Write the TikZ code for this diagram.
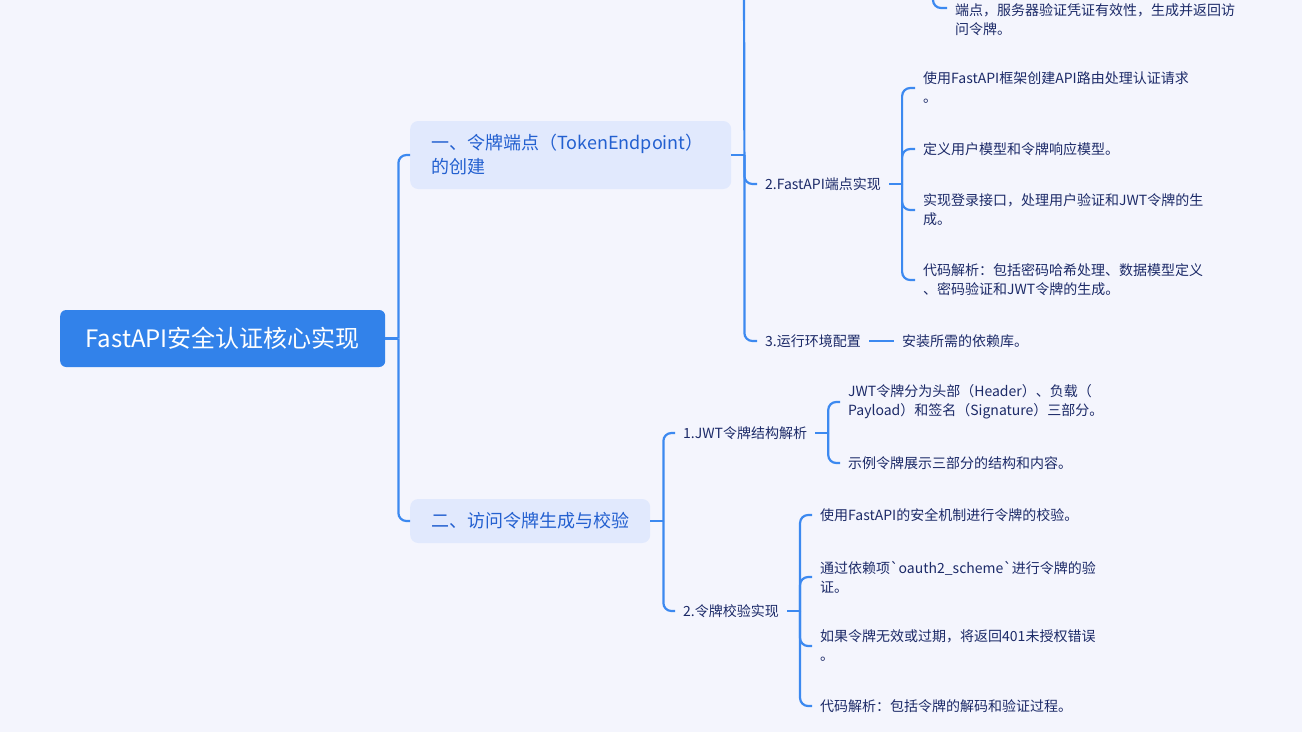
\documentclass[tikz,border=0pt]{standalone}
\usepackage{fontspec}
\setmainfont{Noto Sans CJK SC}
\usetikzlibrary{positioning}
\definecolor{bgcol}{HTML}{F4F5FD}
\definecolor{linkblue}{HTML}{3C89F0}
\definecolor{rootblue}{HTML}{3282EA}
\definecolor{topicfill}{HTML}{E1E9FD}
\definecolor{topicblue}{HTML}{2360D0}
\definecolor{leafnavy}{HTML}{1C2A68}

\begin{document}
\begin{tikzpicture}[x=1pt, y=-1pt,
    link/.style={draw=linkblue, line width=2.2pt, rounded corners=8pt},
    rootbox/.style={fill=rootblue, text=white, rounded corners=6pt, anchor=west,
                    minimum width=325pt, minimum height=57pt,
                    font=\fontsize{24}{28}\selectfont},
    topic/.style={fill=topicfill, text=topicblue, rounded corners=8pt, anchor=west,
                  inner xsep=21pt, align=left, font=\fontsize{18}{24}\selectfont},
    sub/.style={text=leafnavy, anchor=west, inner xsep=8pt, inner ysep=2pt,
                font=\fontsize{14}{19}\selectfont},
    leaf/.style={sub, align=left}
  ]
    \fill[bgcol] (0,0) rectangle (1302,732);
    \clip (0,0) rectangle (1302,732);

    % root and main topics
    \node[rootbox] (root) at (60,338.5) {FastAPI安全认证核心实现};
    \node[topic, text width=279pt, minimum height=68pt] (tok) at (410,155)
      {一、令牌端点（TokenEndpoint）\\的创建};
    \node[topic, minimum height=44pt] (acc) at (410,521) {二、访问令牌生成与校验};

    \draw[link] (root.east) -- ++(13,0) coordinate (root-j);
    \draw[link] (root-j) |- (tok.west);
    \draw[link] (root-j) |- (acc.west);

    % token endpoint branch
    \node[sub] (fast) at (757,184) {2.FastAPI端点实现};
    \node[sub] (env)  at (757,341) {3.运行环境配置};
    \coordinate (tok-up) at (744,-20);

    \draw[link] (tok.east) -- ++(13,0) coordinate (tok-j);
    \draw[link] (tok-j) -- (tok-up);
    \draw[link] (tok-j) |- (fast.west);
    \draw[link] (tok-j) |- (env.west);

    % cut-off leaf at the top
    \node[leaf, anchor=north west] (cred) at (947,1)
      {端点，服务器验证凭证有效性，生成并返回访\\问令牌。};
    \coordinate (cred-up) at (933,-30);
    \coordinate (cred-in) at (947,8);
    \draw[link] (cred-up) |- (cred-in);

    % FastAPI endpoint leaves
    \node[leaf] (f1) at (915,88)  {使用FastAPI框架创建API路由处理认证请求\\。};
    \node[leaf] (f2) at (915,149) {定义用户模型和令牌响应模型。};
    \node[leaf] (f3) at (915,210) {实现登录接口，处理用户验证和JWT令牌的生\\成。};
    \node[leaf] (f4) at (915,280) {代码解析：包括密码哈希处理、数据模型定义\\、密码验证和JWT令牌的生成。};

    \draw[link] (fast.east) -- ++(13,0) coordinate (fast-j);
    \draw[link] (fast-j) |- (f1.west);
    \draw[link] (fast-j) |- (f2.west);
    \draw[link] (fast-j) |- (f3.west);
    \draw[link] (fast-j) |- (f4.west);

    % environment leaf
    \node[sub] (deps) at (894,341) {安装所需的依赖库。};
    \draw[link] (env.east) -- (deps.west);

    % access token branch
    \node[sub] (jwt) at (675,433) {1.JWT令牌结构解析};
    \node[sub] (ver) at (675,611) {2.令牌校验实现};

    \draw[link] (acc.east) -- ++(13,0) coordinate (acc-j);
    \draw[link] (acc-j) |- (jwt.west);
    \draw[link] (acc-j) |- (ver.west);

    % JWT structure leaves
    \node[leaf] (j1) at (840,402) {JWT令牌分为头部（Header）、负载（\\Payload）和签名（Signature）三部分。};
    \node[leaf] (j2) at (840,463) {示例令牌展示三部分的结构和内容。};

    \draw[link] (jwt.east) -- ++(13,0) coordinate (jwt-j);
    \draw[link] (jwt-j) |- (j1.west);
    \draw[link] (jwt-j) |- (j2.west);

    % verification leaves
    \node[leaf] (v1) at (812,515) {使用FastAPI的安全机制进行令牌的校验。};
    \node[leaf] (v2) at (812,577) {通过依赖项\textasciigrave oauth2\_scheme\textasciigrave 进行令牌的验\\证。};
    \node[leaf] (v3) at (812,646) {如果令牌无效或过期，将返回401未授权错误\\。};
    \node[leaf] (v4) at (812,706) {代码解析：包括令牌的解码和验证过程。};

    \draw[link] (ver.east) -- ++(13,0) coordinate (ver-j);
    \draw[link] (ver-j) |- (v1.west);
    \draw[link] (ver-j) |- (v2.west);
    \draw[link] (ver-j) |- (v3.west);
    \draw[link] (ver-j) |- (v4.west);
\end{tikzpicture}
\end{document}
